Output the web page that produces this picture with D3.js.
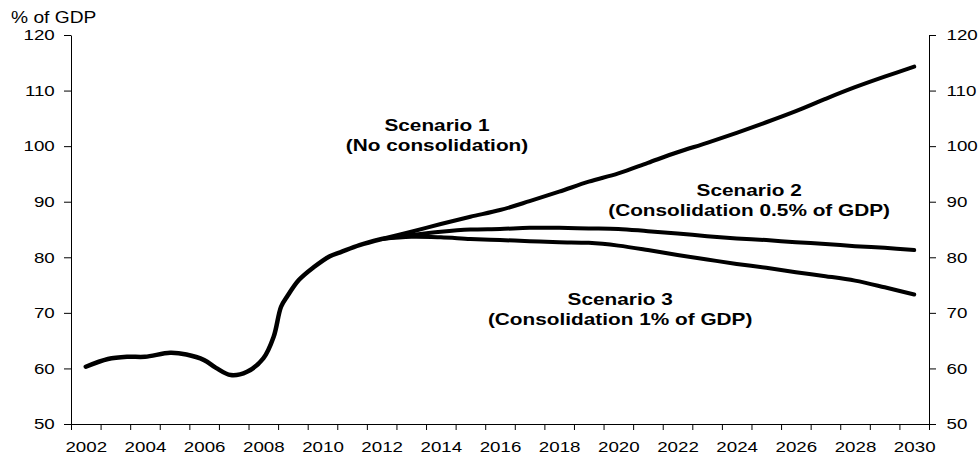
<!DOCTYPE html>
<html lang="en">
<head>
<meta charset="UTF-8">
<title>Public debt scenarios</title>
<style>
    body { margin: 0; background: #fff; }
    text { font-family: "Liberation Sans", Arial, sans-serif; fill: #000; }
    .axis path, .axis line { stroke: #000; }
    .series { fill: none; stroke: #000; stroke-linejoin: round; stroke-linecap: round; }
    .note { font-weight: bold; font-size: 16px; text-anchor: middle; }
</style>
</head>
<body>
<svg id="chart" width="980" height="456"></svg>
<script src="https://d3js.org/d3.v7.min.js"></script>
<script>
    // historical debt ratio (irregular points)
    var histYears  = [2002, 2002.75, 2003.4, 2004, 2004.85, 2005.4, 2006, 2006.4, 2006.9, 2007.45, 2008, 2008.35, 2008.6, 2008.8, 2009.2, 2009.7, 2010.25, 2010.6, 2011.25, 2012];
    var histValues = [60.3, 61.7, 62.1, 62.1, 62.8, 62.5, 61.5, 60.1, 58.8, 59.4, 61.8, 65.7, 71.1, 72.9, 75.9, 78.2, 80.2, 80.9, 82.2, 83.3];

    // projections 2012-2030
    var projYears = d3.range(2012, 2031);
    var scenario1 = [83.3, 84.6, 86.0, 87.3, 88.5, 90.1, 91.8, 93.6, 95.1, 97.0, 98.9, 100.6, 102.4, 104.3, 106.3, 108.5, 110.6, 112.5, 114.3];
    var scenario2 = [83.3, 84.0, 84.6, 85.0, 85.1, 85.3, 85.3, 85.2, 85.1, 84.7, 84.3, 83.8, 83.4, 83.1, 82.7, 82.4, 82.0, 81.7, 81.3];
    var scenario3 = [83.3, 83.7, 83.6, 83.3, 83.1, 82.9, 82.7, 82.6, 82.1, 81.3, 80.4, 79.6, 78.8, 78.1, 77.3, 76.6, 75.8, 74.6, 73.3];

    var yTicks = [50, 60, 70, 80, 90, 100, 110, 120];
    var xLabels = d3.range(2002, 2031, 2);

    var notes = [
        { year: 2013.87, value: 102.7, lines: ["Scenario 1", "(No consolidation)"] },
        { year: 2024.42, value: 91.0,  lines: ["Scenario 2", "(Consolidation 0.5% of GDP)"] },
        { year: 2020.06, value: 71.4,  lines: ["Scenario 3", "(Consolidation 1% of GDP)"] }
    ];

    var stretch = 1.25;   // the original picture is widened horizontally

    var svg = d3.select("#chart");
    var plotLeft = 71, plotRight = 929, plotTop = 35, plotBottom = 424;

    var x = d3.scaleLinear().domain([2001.5, 2030.5]).range([plotLeft, plotRight]);
    var y = d3.scaleLinear().domain([50, 120]).range([plotBottom, plotTop]);

    // x axis: ticks at year boundaries, labels every 2 years in the middle
    svg.append("g").attr("class", "axis")
        .attr("transform", "translate(0," + plotBottom + ")")
        .call(d3.axisBottom(x).tickValues(d3.range(2001.5, 2031, 1)).tickSize(6).tickSizeOuter(0).tickFormat(""));

    var xl = svg.append("g").attr("class", "axis")
        .attr("transform", "translate(0," + plotBottom + ")")
        .call(d3.axisBottom(x).tickValues(xLabels).tickSize(0).tickPadding(17).tickFormat(d3.format("d")));
    xl.select(".domain").remove();
    xl.selectAll("text").attr("font-size", 15).attr("transform", "scale(" + stretch + ",1)");

    var yl = svg.append("g").attr("class", "axis")
        .attr("transform", "translate(" + plotLeft + ",0)")
        .call(d3.axisLeft(y).tickValues(yTicks).tickSize(7).tickSizeOuter(0).tickPadding(6));
    yl.selectAll("text").attr("font-size", 15).attr("transform", "scale(" + stretch + ",1)");

    var yr = svg.append("g").attr("class", "axis")
        .attr("transform", "translate(" + plotRight + ",0)")
        .call(d3.axisRight(y).tickValues(yTicks).tickSize(7).tickSizeOuter(0).tickPadding(7));
    yr.selectAll("text").attr("font-size", 15).attr("transform", "scale(" + stretch + ",1)");

    svg.append("text")
        .attr("transform", "translate(11,23) scale(1.2,1)")
        .attr("font-size", 16)
        .text("% of GDP");

    var line = d3.line()
        .x(function(d) { return x(d[0]); })
        .y(function(d) { return y(d[1]); })
        .curve(d3.curveCatmullRom.alpha(0.5));

    var series = [
        d3.zip(histYears, histValues),
        d3.zip(projYears, scenario1),
        d3.zip(projYears, scenario2),
        d3.zip(projYears, scenario3)
    ];

    svg.selectAll("path.series")
        .data(series)
        .enter().append("path")
        .attr("class", "series")
        .attr("stroke-width", function(d, i) { return i == 0 ? 4.5 : 4; })
        .attr("d", line);

    var g = svg.selectAll("g.note")
        .data(notes)
        .enter().append("g")
        .attr("transform", function(d) { return "translate(" + x(d.year) + "," + y(d.value) + ")"; });

    g.selectAll("text")
        .data(function(d) { return d.lines; })
        .enter().append("text")
        .attr("class", "note")
        .attr("transform", function(d, i) { return "translate(0," + (i * 19.5) + ") scale(1.3,1)"; })
        .text(function(d) { return d; });
</script>
</body>
</html>
